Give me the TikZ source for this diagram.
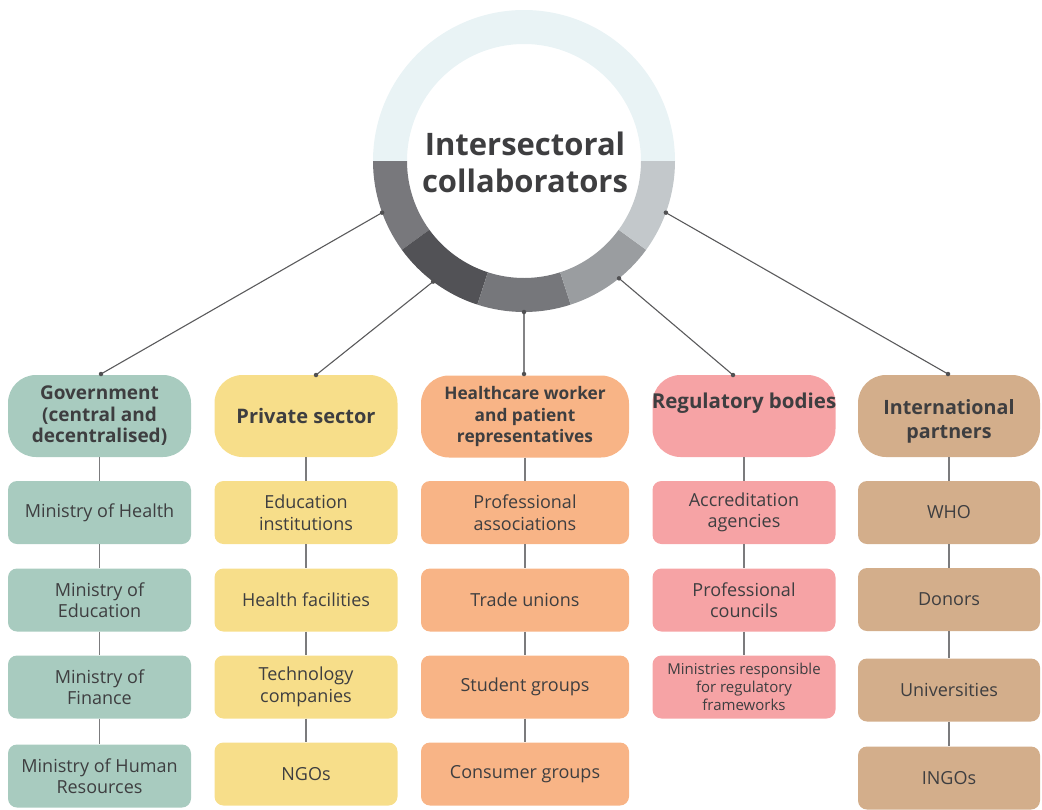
\documentclass[tikz,border=0pt]{standalone}
\usepackage{fontspec}
\usetikzlibrary{calc}
\setmainfont{Open Sans}
\definecolor{txt}{HTML}{3E3E40}
\definecolor{ln}{HTML}{5A5A5C}
\definecolor{ringtop}{HTML}{E9F3F5}
\definecolor{sA}{HTML}{78787C}
\definecolor{sB}{HTML}{525256}
\definecolor{sC}{HTML}{76777B}
\definecolor{sD}{HTML}{9A9DA0}
\definecolor{sE}{HTML}{C3C8CB}
\definecolor{gov}{HTML}{A8CBBF}
\definecolor{priv}{HTML}{F7DE8A}
\definecolor{hcw}{HTML}{F8B486}
\definecolor{reg}{HTML}{F6A3A5}
\definecolor{intl}{HTML}{D3AE8B}
\begin{document}
\begin{tikzpicture}[x=1pt,y=-1pt,
  hdr/.style={rounded corners=28pt, inner sep=0pt, minimum width=183pt, minimum height=82pt,
    align=center, text=txt, font=\bfseries\fontsize{19}{21.5}\selectfont},
  sub/.style={rounded corners=9pt, inner sep=0pt, minimum width=183pt, minimum height=63pt,
    align=center, text=txt, font=\fontsize{18}{21.5}\selectfont},
  conn/.style={draw=ln, line width=1.1pt},
  vconn/.style={draw=ln!80, line width=1.3pt},
  dot/.style={circle, fill=ln!90!black, inner sep=0pt, minimum size=4.5pt}]
\useasboundingbox (0,0) rectangle (1042,809);

% ring
\def\Ro{151}\def\Ri{117}
\coordinate (C) at (524,161);
\fill[ringtop] (C) ++(180:\Ro) arc[start angle=180,end angle=360,radius=\Ro] -- ++(0:-34) arc[start angle=360,end angle=180,radius=\Ri] -- cycle;
\foreach \a/\b/\c in {180/144/sA,144/108/sB,108/72/sC,72/36/sD,36/0/sE}{
  \fill[\c] (C) ++(\a:\Ro) arc[start angle=\a,end angle=\b,radius=\Ro] -- ++(\b:-34) arc[start angle=\b,end angle=\a,radius=\Ri] -- cycle;
}
\node[text=txt, font=\bfseries\fontsize{31}{37}\selectfont, align=center] (title) at (525,162) {Intersectoral\\collaborators};

% ring anchor points
\coordinate (r1) at ($(C)+(160:151)$);
\coordinate (r2) at ($(C)+(127:151)$);
\coordinate (r3) at ($(C)+(90:151)$);
\coordinate (r4) at ($(C)+(51:151)$);
\coordinate (r5) at ($(C)+(20:151)$);

% headers
\node[hdr, fill=gov] (h1) at (99.5,416) {Government\\(central and\\decentralised)};
\node[hdr, fill=priv, font=\bfseries\fontsize{20}{22}\selectfont] (h2) at (306,416) {Private sector};
\node[hdr, fill=hcw, minimum width=208pt, font=\bfseries\fontsize{17.3}{21.7}\selectfont] (h3) at (525,416.5) {Healthcare worker\\and patient\\representatives};
\node[hdr, fill=reg] (h4) at (744,416) {};
\node[text=txt, font=\bfseries\fontsize{20.5}{22}\selectfont, inner sep=0pt] (h4t) at (744,403) {Regulatory bodies};
\node[hdr, fill=intl, minimum width=182pt] (h5) at (949,416) {};
\node[text=txt, font=\bfseries\fontsize{19.7}{24}\selectfont, align=center, inner sep=0pt] (h5t) at (949,421) {International\\partners};

% sub boxes
\node[sub, fill=gov] (g1) at (99.5,512.5) {Ministry of Health};
\node[sub, fill=gov] (g2) at (99.5,600) {Ministry of\\Education};
\node[sub, fill=gov] (g3) at (99.5,687) {Ministry of\\Finance};
\node[sub, fill=gov] (g4) at (99.5,776) {Ministry of Human\\Resources};

\node[sub, fill=priv] (p1) at (306,512.5) {Education\\institutions};
\node[sub, fill=priv] (p2) at (306,600) {Health facilities};
\node[sub, fill=priv] (p3) at (306,687) {Technology\\companies};
\node[sub, fill=priv] (p4) at (306,774) {NGOs};

\node[sub, fill=hcw, minimum width=208pt] (c1) at (525,512.5) {Professional\\associations};
\node[sub, fill=hcw, minimum width=208pt] (c2) at (525,600) {Trade unions};
\node[sub, fill=hcw, minimum width=208pt] (c3) at (525,687) {Student groups};
\node[sub, fill=hcw, minimum width=208pt] (c4) at (525,774) {Consumer groups};

\node[sub, fill=reg] (q1) at (744,512.5) {Accreditation\\agencies};
\node[sub, fill=reg] (q2) at (744,600) {Professional\\councils};
\node[sub, fill=reg, font=\fontsize{15}{18.3}\selectfont] (q3) at (744,687) {Ministries responsible\\for regulatory\\frameworks};

\node[sub, fill=intl, minimum width=182pt] (i1) at (949,512.5) {WHO};
\node[sub, fill=intl, minimum width=182pt] (i2) at (949,599.5) {Donors};
\node[sub, fill=intl, minimum width=182pt] (i3) at (949,690) {Universities};
\node[sub, fill=intl, minimum width=182pt] (i4) at (949,778) {INGOs};

% connectors from ring
\coordinate (e1) at (101,374);
\coordinate (e2) at (316,375);
\coordinate (e3) at (524,374);
\coordinate (e4) at (733,375);
\coordinate (e5) at (948,374);
\draw[conn] (r1) -- (e1);
\draw[conn] (r2) -- (e2);
\draw[conn, draw=ln!75, line width=1.6pt] (r3) -- (e3);
\draw[conn] (r4) -- (e4);
\draw[conn] (r5) -- (e5);
\foreach \p in {r1,r2,r3,r4,r5,e1,e2,e3,e4,e5} \node[dot] at (\p) {};

% column connectors
\foreach \a/\b in {h1/g1,g1/g2,g2/g3,g3/g4,h2/p1,p1/p2,p2/p3,p3/p4,h3/c1,c1/c2,c2/c3,c3/c4,h4/q1,q1/q2,q2/q3,h5/i1,i1/i2,i2/i3,i3/i4}
  \draw[vconn] (\a.south) -- (\b.north);
\end{tikzpicture}
\end{document}
